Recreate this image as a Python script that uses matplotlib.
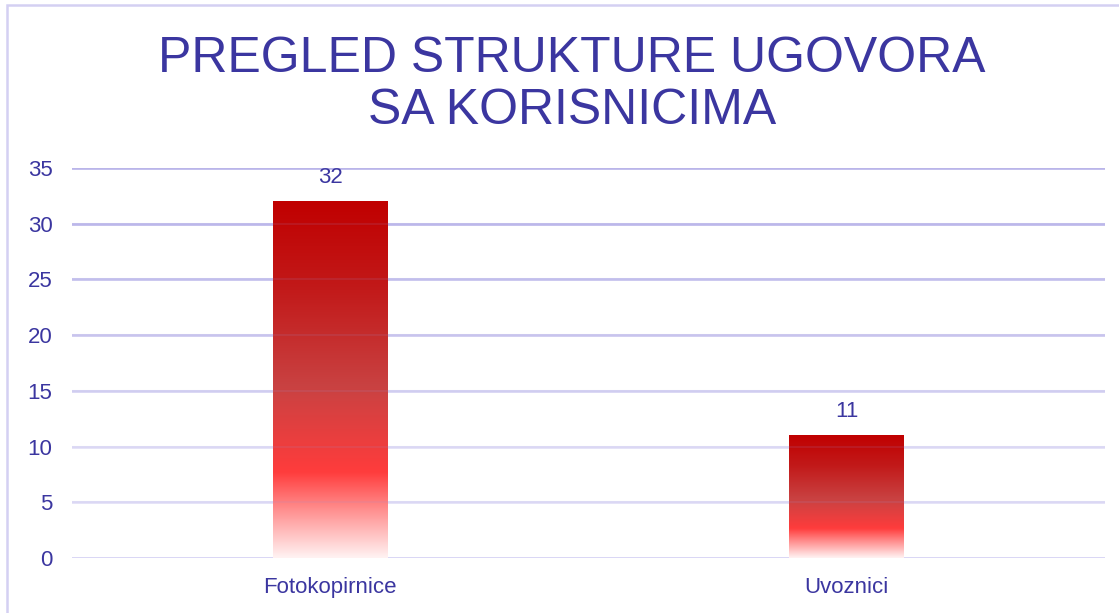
import numpy as np
import matplotlib
matplotlib.use("Agg")
import matplotlib.pyplot as plt
from matplotlib.colors import LinearSegmentedColormap
from matplotlib.patches import Rectangle

# data
categories = ["Fotokopirnice", "Uvoznici"]
values = [32, 11]
yticks = [0, 5, 10, 15, 20, 25, 30, 35]
title = "PREGLED STRUKTURE UGOVORA\nSA KORISNICIMA"

text_col = "#3B36A0"
plt.rcParams['font.family'] = ['Liberation Sans', 'DejaVu Sans']

fig = plt.figure(figsize=(11.19, 6.13), dpi=100)
ax = fig.add_axes([72/1119, 1-558/613, (1105-72)/1119, (558-168)/613])

# frame round the whole picture
fig.patches.append(Rectangle((7/1119, -0.05), 1.2, 1 - 5/613 + 0.05,
                             transform=fig.transFigure, fill=False,
                             edgecolor="#D4D0F2", linewidth=1.8))

# gridlines, darker at the top
grid_cols = ["#D6D3F4", "#E4E1F8", "#E4E1F8", "#D8D5F4", "#CFCBF1", "#C8C4EF", "#C1BCED", "#BFBAEC"]
for t, c in zip(yticks, grid_cols):
    ax.axhline(t, color=c, lw=2.0, zorder=1)

# red gradient bars (top -> bottom)
cmap = LinearSegmentedColormap.from_list("bar", [
    (0.0, "#C00000"), (0.25, "#C21A1A"), (0.52, "#C94242"),
    (0.76, "#FF3C3C"), (0.86, "#FF8A8A"), (1.0, "#FFF2F2")])
grad = np.linspace(0, 1, 256).reshape(-1, 1)
width = 0.222
x = np.arange(len(categories))
bars = ax.bar(x, values, width=width, color="none", zorder=2)
for b, v in zip(bars, values):
    x0 = b.get_x()
    im = ax.imshow(grad, cmap=cmap, aspect="auto", extent=[x0, x0 + width, 0, v],
                   origin="upper", zorder=2, interpolation="bicubic")
    im.set_clip_path(b)
    ax.text(b.get_x() + width/2, v + 1.2, str(v), ha="center", va="bottom",
            color=text_col, fontsize=16)

# faint gridlines seen through the bars
for t in yticks[1:]:
    ax.axhline(t, color="#9A94D8", lw=1.5, alpha=0.12, zorder=3)

ax.set_xlim(-0.5, 1.5)
ax.set_ylim(0, 35)
ax.set_yticks(yticks)
ax.set_xticks(x)
ax.set_xticklabels(categories)
ax.tick_params(axis="both", length=0, labelsize=16, labelcolor=text_col)
ax.tick_params(axis="y", pad=14)
ax.tick_params(axis="x", pad=14)
for s in ax.spines.values():
    s.set_visible(False)

fig.text(572/1119, 1-85/613, title, ha="center", va="center", color=text_col,
         fontsize=36, linespacing=1.14)

fig.savefig("out.png", dpi=100)
